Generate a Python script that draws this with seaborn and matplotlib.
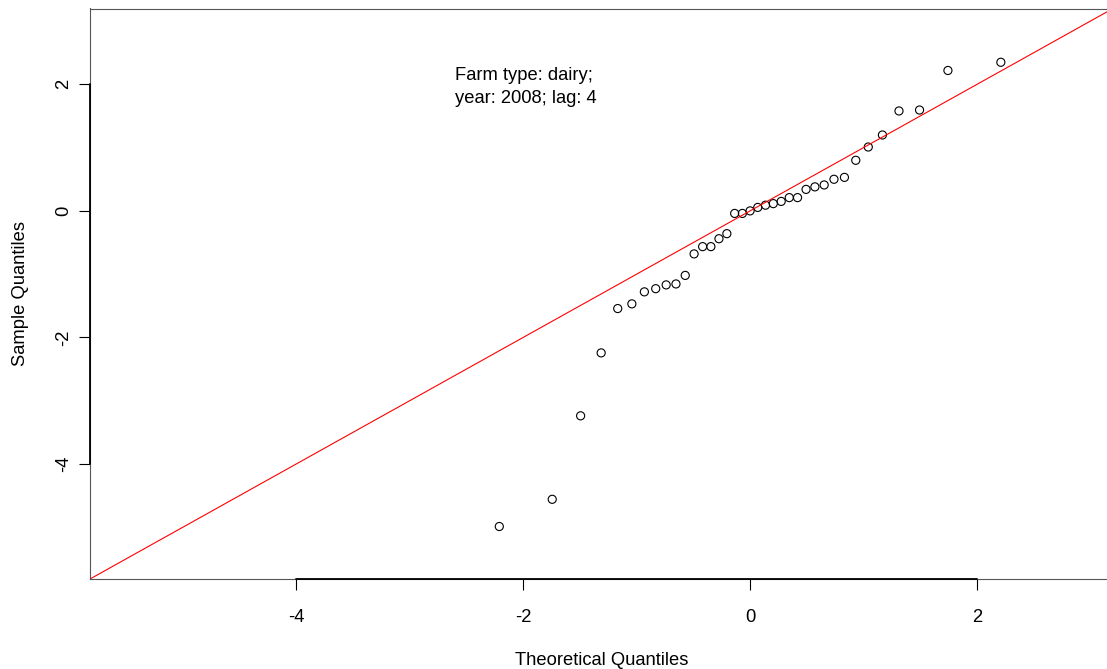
import matplotlib
matplotlib.use("Agg")
import matplotlib.pyplot as plt
import seaborn as sns
import pandas as pd
from statistics import NormalDist

# Sorted sample residuals (dairy farms, 2008, lag 4)
sample_values = [
    -4.99, -4.56, -3.24, -2.245, -1.544, -1.47, -1.28, -1.23, -1.17, -1.155,
    -1.02, -0.68, -0.565, -0.565, -0.44, -0.36, -0.04, -0.04, 0.0, 0.055,
    0.09, 0.115, 0.15, 0.21, 0.21, 0.34, 0.38, 0.41, 0.50, 0.53,
    0.80, 1.01, 1.20, 1.58, 1.595, 2.22, 2.35,
]
tick_values = [-4, -2, 0, 2]
annotation_lines = ["Farm type: dairy;", "year: 2008; lag: 4"]
ref_intercept = 0.0
ref_slope = 1.0

# Normal plotting positions (R's ppoints for n > 10)
n = len(sample_values)
theoretical = [NormalDist().inv_cdf((i + 0.5) / n) for i in range(n)]
df = pd.DataFrame({"theoretical": theoretical, "sample": sorted(sample_values)})

sns.set_theme(style="white")
plt.rcParams["font.family"] = ["Liberation Sans", "DejaVu Sans"]
plt.rcParams["axes.unicode_minus"] = False

FS = 13.2

fig = plt.figure(figsize=(11.07, 6.69), dpi=100)
ax = fig.add_axes([90 / 1107, 90 / 669, 1023 / 1107, 570.5 / 669])

sns.scatterplot(
    data=df, x="theoretical", y="sample", ax=ax,
    marker="o", s=34, facecolor="none", edgecolor="black", linewidth=0.8,
)
ax.axline((0, ref_intercept), slope=ref_slope, color="red", linewidth=0.8)

lim = (-5.82, 3.2)
ax.set_xlim(lim)
ax.set_ylim(lim)
ax.set_xticks(tick_values)
ax.set_yticks(tick_values)
ax.set_xticklabels([str(t) for t in tick_values])
ax.set_yticklabels([str(t) for t in tick_values], rotation=90, va="center")
ax.tick_params(axis="both", direction="out", length=8, width=0.8,
               bottom=True, left=True, top=False, right=False,
               color="black", labelsize=FS, labelcolor="black")
ax.tick_params(axis="x", pad=13.5)
ax.tick_params(axis="y", pad=5)

for side in ["left", "bottom", "top", "right"]:
    ax.spines[side].set_visible(True)
    ax.spines[side].set_color("#555555")
    ax.spines[side].set_linewidth(0.8)

# Axis segments spanning the outer ticks, as drawn by base graphics
ax.plot([tick_values[0], tick_values[-1]], [lim[0], lim[0]], color="black",
        linewidth=1.3, clip_on=False, zorder=5)
ax.plot([lim[0], lim[0]], [tick_values[0], tick_values[-1]], color="black",
        linewidth=1.3, clip_on=False, zorder=5)

ax.set_xlabel("Theoretical Quantiles", fontsize=FS, color="black", labelpad=19)
ax.set_ylabel("Sample Quantiles", fontsize=FS, color="black", labelpad=19)

ax.text(-2.60, 1.955, "\n".join(annotation_lines), fontsize=FS,
        ha="left", va="center", linespacing=1.48, color="black")

fig.savefig("out.png", dpi=100)
